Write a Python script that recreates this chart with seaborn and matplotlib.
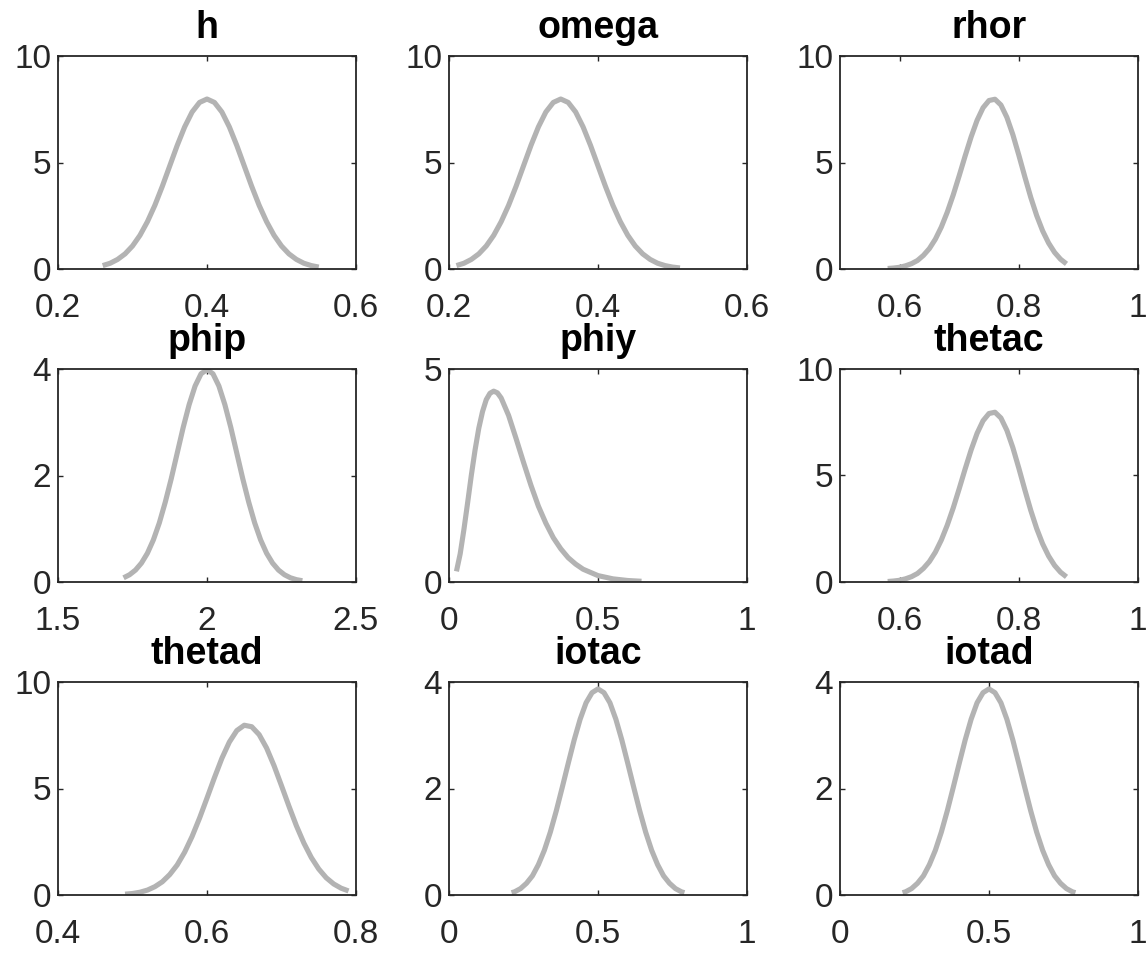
import numpy as np
import pandas as pd
import matplotlib
matplotlib.use("Agg")
import matplotlib.pyplot as plt
import seaborn as sns
from matplotlib.ticker import FixedLocator, FixedFormatter

# ---------------- data ----------------
titles = ["h", "omega", "rhor", "phip", "phiy", "thetac", "thetad", "iotac", "iotad"]

h_x = [0.26, 0.27, 0.28, 0.29, 0.30, 0.31, 0.32, 0.33, 0.34, 0.35, 0.36, 0.37, 0.38, 0.39, 0.40,
       0.41, 0.42, 0.43, 0.44, 0.45, 0.46, 0.47, 0.48, 0.49, 0.50, 0.51, 0.52, 0.53, 0.54, 0.55]
h_y = [0.16, 0.27, 0.45, 0.71, 1.08, 1.58, 2.22, 2.99, 3.88, 4.84, 5.80, 6.67, 7.37, 7.82, 7.98,
       7.82, 7.37, 6.67, 5.80, 4.84, 3.88, 2.99, 2.22, 1.58, 1.08, 0.71, 0.45, 0.27, 0.16, 0.09]

omega_x = [0.21, 0.22, 0.23, 0.24, 0.25, 0.26, 0.27, 0.28, 0.29, 0.30, 0.31, 0.32, 0.33, 0.34, 0.35,
           0.36, 0.37, 0.38, 0.39, 0.40, 0.41, 0.42, 0.43, 0.44, 0.45, 0.46, 0.47, 0.48, 0.49, 0.50, 0.51]
omega_y = [0.16, 0.27, 0.45, 0.71, 1.08, 1.58, 2.22, 2.99, 3.88, 4.84, 5.80, 6.67, 7.37, 7.82, 7.98,
           7.82, 7.37, 6.67, 5.80, 4.84, 3.88, 2.99, 2.22, 1.58, 1.08, 0.71, 0.45, 0.27, 0.16, 0.09, 0.05]

rhor_x = [0.58, 0.59, 0.60, 0.61, 0.62, 0.63, 0.64, 0.65, 0.66, 0.67, 0.68, 0.69, 0.70, 0.71, 0.72,
          0.73, 0.74, 0.75, 0.76, 0.77, 0.78, 0.79, 0.80, 0.81, 0.82, 0.83, 0.84, 0.85, 0.86, 0.87, 0.88]
rhor_y = [0.024, 0.046, 0.08, 0.15, 0.25, 0.40, 0.64, 0.96, 1.40, 1.97, 2.67, 3.48, 4.38, 5.31, 6.20,
          6.98, 7.57, 7.91, 7.97, 7.70, 7.12, 6.31, 5.35, 4.34, 3.37, 2.51, 1.79, 1.22, 0.78, 0.46, 0.24]

phip_x = [1.72, 1.74, 1.76, 1.78, 1.80, 1.82, 1.84, 1.86, 1.88, 1.90, 1.92, 1.94, 1.96, 1.98, 2.00,
          2.02, 2.04, 2.06, 2.08, 2.10, 2.12, 2.14, 2.16, 2.18, 2.20, 2.22, 2.24, 2.26, 2.28, 2.30, 2.32]
phip_y = [0.079, 0.136, 0.224, 0.355, 0.54, 0.79, 1.11, 1.50, 1.94, 2.42, 2.90, 3.33, 3.68, 3.91, 3.99,
          3.91, 3.68, 3.33, 2.90, 2.42, 1.94, 1.50, 1.11, 0.79, 0.54, 0.355, 0.224, 0.136, 0.079, 0.044, 0.024]

phiy_x = [0.025, 0.0375, 0.05, 0.0625, 0.075, 0.0875, 0.1, 0.1125, 0.125, 0.1375, 0.15, 0.1625, 0.175,
          0.2, 0.225, 0.25, 0.275, 0.3, 0.325, 0.35, 0.375, 0.4, 0.425, 0.45, 0.5, 0.55, 0.6, 0.646]
phiy_y = [0.25, 0.66, 1.23, 1.86, 2.51, 3.10, 3.61, 4.00, 4.28, 4.43, 4.48, 4.44, 4.32,
          3.91, 3.37, 2.81, 2.27, 1.78, 1.38, 1.04, 0.78, 0.57, 0.42, 0.30, 0.15, 0.074, 0.035, 0.017]

thetac_x = list(rhor_x)
thetac_y = list(rhor_y)

thetad_x = [0.49, 0.50, 0.51, 0.52, 0.53, 0.54, 0.55, 0.56, 0.57, 0.58, 0.59, 0.60, 0.61, 0.62, 0.63,
            0.64, 0.65, 0.66, 0.67, 0.68, 0.69, 0.70, 0.71, 0.72, 0.73, 0.74, 0.75, 0.76, 0.77, 0.78, 0.79]
thetad_y = [0.04, 0.07, 0.13, 0.23, 0.39, 0.62, 0.96, 1.41, 2.01, 2.75, 3.61, 4.55, 5.51, 6.42, 7.18,
            7.72, 7.97, 7.90, 7.53, 6.90, 6.07, 5.13, 4.17, 3.25, 2.44, 1.76, 1.22, 0.81, 0.52, 0.32, 0.19]

iotac_x = [0.21, 0.22, 0.24, 0.26, 0.28, 0.30, 0.32, 0.34, 0.36, 0.38, 0.40, 0.42, 0.44, 0.46, 0.48,
           0.50, 0.52, 0.54, 0.56, 0.58, 0.60, 0.62, 0.64, 0.66, 0.68, 0.70, 0.72, 0.74, 0.76, 0.78, 0.79]
iotac_y = [0.043, 0.06, 0.12, 0.22, 0.36, 0.57, 0.84, 1.18, 1.58, 2.02, 2.47, 2.91, 3.30, 3.61, 3.80,
           3.87, 3.80, 3.61, 3.30, 2.91, 2.47, 2.02, 1.58, 1.18, 0.84, 0.57, 0.36, 0.22, 0.12, 0.06, 0.043]

iotad_x = list(iotac_x)
iotad_y = list(iotac_y)

xs = [h_x, omega_x, rhor_x, phip_x, phiy_x, thetac_x, thetad_x, iotac_x, iotad_x]
ys = [h_y, omega_y, rhor_y, phip_y, phiy_y, thetac_y, thetad_y, iotac_y, iotad_y]

xlims = [(0.2, 0.6), (0.2, 0.6), (0.5, 1.0), (1.5, 2.5), (0.0, 1.0), (0.5, 1.0), (0.4, 0.8), (0.0, 1.0), (0.0, 1.0)]
ylims = [(0, 10), (0, 10), (0, 10), (0, 4), (0, 5), (0, 10), (0, 10), (0, 4), (0, 4)]
xticks = [[0.2, 0.4, 0.6], [0.2, 0.4, 0.6], [0.6, 0.8, 1.0], [1.5, 2.0, 2.5], [0.0, 0.5, 1.0],
          [0.6, 0.8, 1.0], [0.4, 0.6, 0.8], [0.0, 0.5, 1.0], [0.0, 0.5, 1.0]]
xticklabels = [["0.2", "0.4", "0.6"], ["0.2", "0.4", "0.6"], ["0.6", "0.8", "1"], ["1.5", "2", "2.5"],
               ["0", "0.5", "1"], ["0.6", "0.8", "1"], ["0.4", "0.6", "0.8"], ["0", "0.5", "1"], ["0", "0.5", "1"]]
yticks = [[0, 5, 10], [0, 5, 10], [0, 5, 10], [0, 2, 4], [0, 5], [0, 5, 10], [0, 5, 10], [0, 2, 4], [0, 2, 4]]
yticklabels = [[str(v) for v in t] for t in yticks]

# ---------------- styling ----------------
sns.set_theme(style="white")
plt.rcParams["font.family"] = ["Liberation Sans", "DejaVu Sans"]

LINE_COLOR = "#b3b3b3"
AX_COLOR = "#262626"

fig = plt.figure(figsize=(11.46, 9.56), dpi=100)

W, H = 1146.0, 956.0
col_left = [58, 449, 840]
row_top = [56, 369, 682]
aw, ah = 298, 213

for i, name in enumerate(titles):
    r, c = divmod(i, 3)
    left = col_left[c] / W
    bottom = 1 - (row_top[r] + ah) / H
    ax = fig.add_axes([left, bottom, aw / W, ah / H])
    df = pd.DataFrame({"x": xs[i], "y": ys[i]})
    sns.lineplot(data=df, x="x", y="y", ax=ax, color=LINE_COLOR, linewidth=3.7,
                 estimator=None, sort=False, solid_capstyle="butt")
    ax.set_xlim(*xlims[i])
    ax.set_ylim(*ylims[i])
    ax.xaxis.set_major_locator(FixedLocator(xticks[i]))
    ax.xaxis.set_major_formatter(FixedFormatter(xticklabels[i]))
    ax.yaxis.set_major_locator(FixedLocator(yticks[i]))
    ax.yaxis.set_major_formatter(FixedFormatter(yticklabels[i]))
    ax.set_xlabel("")
    ax.set_ylabel("")
    for sp in ax.spines.values():
        sp.set_visible(True)
        sp.set_color(AX_COLOR)
        sp.set_linewidth(1.3)
    ax.tick_params(axis="both", which="major", direction="in", length=3.5, width=1.0,
                   color=AX_COLOR, labelcolor=AX_COLOR, labelsize=24,
                   top=True, right=True, bottom=True, left=True)
    ax.tick_params(axis="x", pad=17)
    ax.tick_params(axis="y", pad=5)
    ax.set_title(name, fontsize=27, fontweight="bold", color="black", pad=13)

fig.savefig("out.png", dpi=100)
